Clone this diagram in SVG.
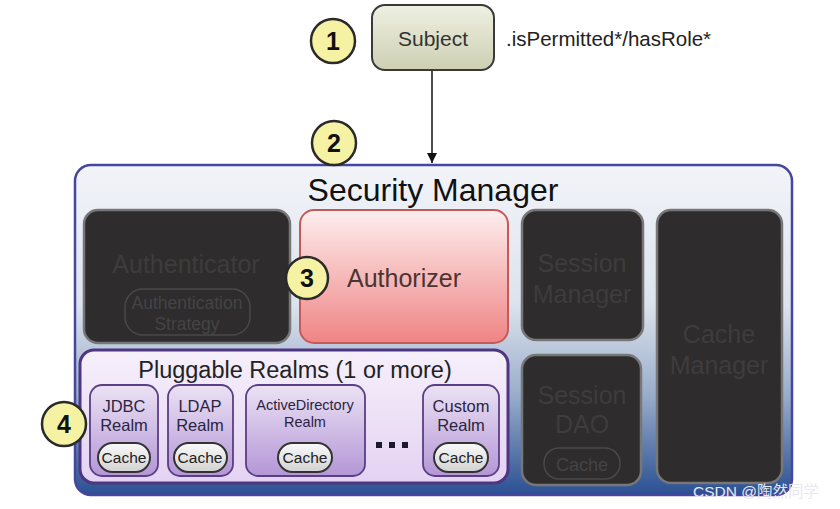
<svg xmlns="http://www.w3.org/2000/svg" width="840" height="509" viewBox="0 0 840 509">
<defs>
<linearGradient id="gSubj" x1="0" y1="0" x2="0" y2="1"><stop offset="0" stop-color="#eef0e2"/><stop offset="1" stop-color="#cdd0b2"/></linearGradient>
<linearGradient id="gSM" x1="0" y1="0" x2="0" y2="1"><stop offset="0" stop-color="#f2f4f9"/><stop offset="0.42" stop-color="#dde3ed"/><stop offset="0.7" stop-color="#98acca"/><stop offset="1" stop-color="#2a4f92"/></linearGradient>
<linearGradient id="gAuthz" x1="0" y1="0" x2="0" y2="1"><stop offset="0" stop-color="#fdeeee"/><stop offset="1" stop-color="#f08484"/></linearGradient>
<linearGradient id="gPR" x1="0" y1="0" x2="0" y2="1"><stop offset="0" stop-color="#f6f0fb"/><stop offset="1" stop-color="#e4d2f2"/></linearGradient>
<linearGradient id="gRealm" x1="0" y1="0" x2="0" y2="1"><stop offset="0" stop-color="#ebe2f4"/><stop offset="1" stop-color="#b496d6"/></linearGradient>
<linearGradient id="gCache" x1="0" y1="0" x2="0" y2="1"><stop offset="0" stop-color="#fafafa"/><stop offset="1" stop-color="#d2d2d2"/></linearGradient>
<marker id="arr" viewBox="0 0 10 10" refX="10" refY="5" markerWidth="10" markerHeight="10" markerUnits="userSpaceOnUse" orient="auto"><path d="M0,0 L10,5 L0,10 z" fill="#111"/></marker>
</defs>
<style>
text{font-family:"Liberation Sans",Arial,sans-serif;text-anchor:middle}
.num{font-size:25px;font-weight:bold;fill:#111}
.badge{fill:#f6f2a4;stroke:#2a2a2a;stroke-width:2.5}
.dark{fill:#2e2c2c;stroke:#777;stroke-width:2.5}
.dtext{fill:#3e3c3c;font-size:25px}
.realm{fill:url(#gRealm);stroke:#5a3e86;stroke-width:1.8}
.rtext{fill:#2a2440;font-size:16.5px}
.cache{fill:url(#gCache);stroke:#333;stroke-width:2}
.ctext{fill:#222;font-size:15.5px}
</style>
<rect width="840" height="509" fill="#ffffff"/>

<g id="connectors">
<line x1="432" y1="70" x2="432" y2="163" stroke="#111" stroke-width="1.5" marker-end="url(#arr)"/>
</g>

<g id="subject">
<rect x="372" y="5" width="122" height="65" rx="13" fill="url(#gSubj)" stroke="#3a3a3a" stroke-width="2"/>
<text x="433" y="46" font-size="21" fill="#333">Subject</text>
</g>
<text x="506" y="46" font-size="20.5" fill="#222" style="text-anchor:start">.isPermitted*/hasRole*</text>

<g id="security-manager">
<rect x="75" y="165" width="717" height="330" rx="16" fill="url(#gSM)" stroke="#4646a0" stroke-width="2.5"/>
<text x="433" y="201" font-size="32" fill="#111">Security Manager</text>
</g>

<g id="authenticator">
<rect x="84" y="210" width="206" height="133" rx="14" class="dark"/>
<text x="186" y="273" class="dtext">Authenticator</text>
<rect x="125" y="289" width="125" height="46" rx="18" fill="none" stroke="#4a4848" stroke-width="1.5"/>
<text x="187" y="309" font-size="17.5" fill="#444">Authentication</text>
<text x="187" y="330" font-size="17.5" fill="#444">Strategy</text>
</g>

<g id="authorizer">
<rect x="300" y="210" width="208" height="133" rx="14" fill="url(#gAuthz)" stroke="#c45a5a" stroke-width="2"/>
<text x="404" y="287" font-size="25" fill="#4a3434">Authorizer</text>
</g>

<g id="session-manager">
<rect x="522" y="210" width="121" height="130" rx="14" class="dark"/>
<text x="582" y="272" class="dtext">Session</text>
<text x="582" y="303" class="dtext">Manager</text>
</g>

<g id="session-dao">
<rect x="522" y="355" width="119" height="130" rx="14" class="dark"/>
<text x="582" y="404" class="dtext">Session</text>
<text x="582" y="433" class="dtext">DAO</text>
<rect x="544" y="448" width="76" height="31" rx="15" fill="none" stroke="#4a4848" stroke-width="1.5"/>
<text x="582" y="471" font-size="18" fill="#444">Cache</text>
</g>

<g id="cache-manager">
<rect x="657" y="210" width="125" height="273" rx="14" class="dark"/>
<text x="719" y="343" class="dtext">Cache</text>
<text x="719" y="374" class="dtext">Manager</text>
</g>

<g id="pluggable-realms">
<rect x="80" y="350" width="428" height="133" rx="14" fill="url(#gPR)" stroke="#4e3682" stroke-width="3"/>
<text x="295" y="378" font-size="23.5" fill="#222">Pluggable Realms (1 or more)</text>
</g>

<g id="jdbc-realm">
<rect x="90" y="385" width="68" height="91" rx="12" class="realm"/>
<text x="124" y="412" class="rtext">JDBC</text>
<text x="124" y="431" class="rtext">Realm</text>
<rect x="98" y="443" width="52" height="29" rx="14.5" class="cache"/>
<text x="124" y="463" class="ctext">Cache</text>
</g>

<g id="ldap-realm">
<rect x="168" y="385" width="65" height="91" rx="12" class="realm"/>
<text x="200" y="412" class="rtext">LDAP</text>
<text x="200" y="431" class="rtext">Realm</text>
<rect x="174" y="443" width="53" height="29" rx="14.5" class="cache"/>
<text x="200" y="463" class="ctext">Cache</text>
</g>

<g id="activedirectory-realm">
<rect x="246" y="385" width="119" height="91" rx="12" class="realm"/>
<text x="305" y="410" font-size="14.5" fill="#2a2440">ActiveDirectory</text>
<text x="305" y="427" font-size="14.5" fill="#2a2440">Realm</text>
<rect x="278" y="443" width="54" height="29" rx="14.5" class="cache"/>
<text x="305" y="463" class="ctext">Cache</text>
</g>

<g id="ellipsis">
<rect x="376" y="442" width="6" height="6" fill="#1a1a2a"/>
<rect x="389" y="442" width="6" height="6" fill="#1a1a2a"/>
<rect x="402" y="442" width="6" height="6" fill="#1a1a2a"/>
</g>

<g id="custom-realm">
<rect x="423" y="385" width="76" height="91" rx="12" class="realm"/>
<text x="461" y="412" class="rtext">Custom</text>
<text x="461" y="431" class="rtext">Realm</text>
<rect x="434" y="443" width="54" height="29" rx="14.5" class="cache"/>
<text x="461" y="463" class="ctext">Cache</text>
</g>

<g id="badge-1"><circle cx="333" cy="41" r="22" class="badge"/><text x="333" y="50" class="num">1</text></g>
<g id="badge-2"><circle cx="334" cy="143" r="22" class="badge"/><text x="334" y="152" class="num">2</text></g>
<g id="badge-3"><circle cx="307" cy="278" r="21" class="badge"/><text x="307" y="287" class="num">3</text></g>
<g id="badge-4"><circle cx="64" cy="424" r="22" class="badge"/><text x="64" y="433" class="num">4</text></g>

<text x="756" y="497" font-size="15.5" fill="#e8e8f0" style="font-family:'Liberation Sans','Noto Sans CJK SC',sans-serif">CSDN @陶然同学</text>
</svg>
